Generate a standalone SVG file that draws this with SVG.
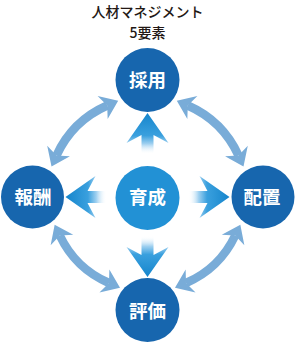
<svg xmlns="http://www.w3.org/2000/svg" xmlns:xlink="http://www.w3.org/1999/xlink" width="295" height="345" viewBox="0 0 295 345">
<style>
.title{font-family:"Noto Sans CJK JP","Noto Sans",sans-serif;font-size:14px;font-weight:500;fill:#231815;text-anchor:middle}
.lbl{font-family:"Noto Sans CJK JP","Noto Sans",sans-serif;font-size:18.5px;font-weight:bold;fill:#fff;text-anchor:middle}
.outer{fill:#1766ae}
.inner{fill:#2291d5}
.curve{fill:none;stroke:#79acd8;stroke-width:8.5;marker-start:url(#head);marker-end:url(#head)}
</style>
<defs>
<marker id="head" markerUnits="userSpaceOnUse" orient="auto-start-reverse" refX="5" refY="0" markerWidth="40" markerHeight="40" overflow="visible">
<path d="M0,-12.5 L17,0 L0,12.5 L5,0 Z" fill="#79acd8"/>
</marker>
<linearGradient id="grad" x1="0" y1="0" x2="1" y2="0">
<stop offset="0" stop-color="#ffffff" stop-opacity="0"/>
<stop offset="0.25" stop-color="#9fd0f0"/>
<stop offset="0.45" stop-color="#3aa0de"/>
<stop offset="1" stop-color="#1585cc"/>
</linearGradient>
<polygon id="arr" points="0,0 -30,-21 -22,-6 -41,-6 -41,6 -22,6 -30,21" fill="url(#grad)"/>
</defs>
<g id="title">
<text class="title" x="147.5" y="16.5">人材マネジメント</text>
<text class="title" x="147.5" y="37.5">5要素</text>
</g>
<g id="connectors">
<path class="curve" d="M107.2,105.5 A100,100 0 0 0 56.5,155.5"/>
<path class="curve" d="M187.8,105.5 A100,100 0 0 1 238.5,155.5"/>
<path class="curve" d="M59.8,235.5 A97,97 0 0 0 109,283"/>
<path class="curve" d="M235.2,235.5 A97,97 0 0 1 186,283"/>
<use xlink:href="#arr" transform="translate(147.5,113) rotate(-90)"/>
<use xlink:href="#arr" transform="translate(147.5,277) rotate(90)"/>
<use xlink:href="#arr" transform="translate(65.5,197) rotate(180)"/>
<use xlink:href="#arr" transform="translate(229.5,197)"/>
</g>
<g id="node-saiyo">
<circle class="outer" cx="147.5" cy="80" r="32"/>
<text class="lbl" x="147.5" y="86.5">採用</text>
</g>
<g id="node-hoshu">
<circle class="outer" cx="32.5" cy="197" r="31.5"/>
<text class="lbl" x="33" y="203.5">報酬</text>
</g>
<g id="node-haichi">
<circle class="outer" cx="263" cy="197" r="31.5"/>
<text class="lbl" x="262" y="203.5">配置</text>
</g>
<g id="node-ikusei">
<circle class="inner" cx="147.5" cy="198" r="32"/>
<text class="lbl" x="147.5" y="204">育成</text>
</g>
<g id="node-hyoka">
<circle class="outer" cx="147.5" cy="310" r="32"/>
<text class="lbl" x="147.5" y="317.5">評価</text>
</g>
</svg>
